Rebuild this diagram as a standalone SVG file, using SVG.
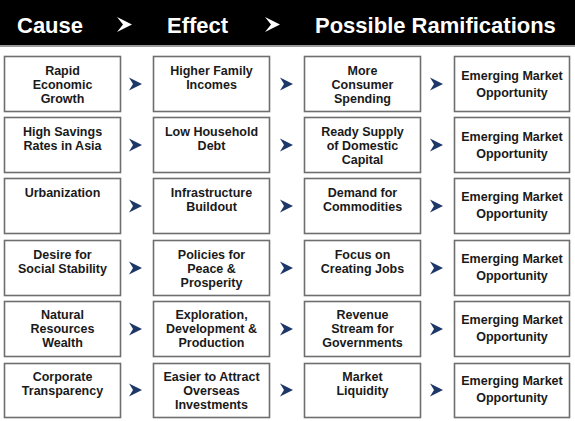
<svg xmlns="http://www.w3.org/2000/svg" width="575" height="421" viewBox="0 0 575 421">
<style>
.hdr{font-family:"Liberation Sans",Arial,sans-serif;font-weight:bold;font-size:22px;fill:#ffffff}
.box{fill:#ffffff;stroke:#6e6e6e;stroke-width:1.6}
.t{font-family:"Liberation Sans",Arial,sans-serif;font-weight:bold;font-size:12.5px;fill:#1a1a1a;text-anchor:middle}
.hc{fill:#ffffff}
.nc{fill:#1c3768}
</style>
<defs>
<path id="chev" d="M0,-6.5 L13,0 L0,6.5 L4,0 Z"/>
</defs>
<rect x="0" y="0" width="575" height="421" fill="#ffffff"/>
<g id="header">
<rect x="0" y="0" width="575" height="45" fill="#000000"/>
<rect x="0" y="45" width="575" height="2" fill="#9a9a9a"/>
<text class="hdr" x="17" y="33">Cause</text>
<text class="hdr" x="167" y="33">Effect</text>
<text class="hdr" x="315" y="33">Possible Ramifications</text>
<path class="hc" d="M117,17 L132,24.5 L117,32 L123,24.5 Z"/>
<path class="hc" d="M265,17 L280,24.5 L265,32 L271,24.5 Z"/>
</g>
<g id="connectors">
<use href="#chev" class="nc" x="129" y="84"/><use href="#chev" class="nc" x="280" y="84"/><use href="#chev" class="nc" x="430" y="84"/>
<use href="#chev" class="nc" x="129" y="145"/><use href="#chev" class="nc" x="280" y="145"/><use href="#chev" class="nc" x="430" y="145"/>
<use href="#chev" class="nc" x="129" y="206"/><use href="#chev" class="nc" x="280" y="206"/><use href="#chev" class="nc" x="430" y="206"/>
<use href="#chev" class="nc" x="129" y="268"/><use href="#chev" class="nc" x="280" y="268"/><use href="#chev" class="nc" x="430" y="268"/>
<use href="#chev" class="nc" x="129" y="329"/><use href="#chev" class="nc" x="280" y="329"/><use href="#chev" class="nc" x="430" y="329"/>
<use href="#chev" class="nc" x="129" y="390"/><use href="#chev" class="nc" x="280" y="390"/><use href="#chev" class="nc" x="430" y="390"/>
</g>
<!-- Row 1 -->
<g id="r1c1"><rect class="box" x="4.5" y="56.5" width="116" height="55"/><text class="t" x="62.5"><tspan x="62.5" y="75">Rapid</tspan><tspan x="62.5" y="89">Economic</tspan><tspan x="62.5" y="103">Growth</tspan></text></g>
<g id="r1c2"><rect class="box" x="153.5" y="56.5" width="116" height="55"/><text class="t"><tspan x="211.5" y="75">Higher Family</tspan><tspan x="211.5" y="89">Incomes</tspan></text></g>
<g id="r1c3"><rect class="box" x="304.5" y="56.5" width="116" height="55"/><text class="t"><tspan x="362.5" y="75">More</tspan><tspan x="362.5" y="89">Consumer</tspan><tspan x="362.5" y="103">Spending</tspan></text></g>
<g id="r1c4"><rect class="box" x="454.5" y="56.5" width="115" height="55"/><text class="t"><tspan x="512" y="80">Emerging Market</tspan><tspan x="512" y="96.5">Opportunity</tspan></text></g>
<!-- Row 2 -->
<g id="r2c1"><rect class="box" x="4.5" y="117.5" width="116" height="55"/><text class="t"><tspan x="62.5" y="136">High Savings</tspan><tspan x="62.5" y="150">Rates in Asia</tspan></text></g>
<g id="r2c2"><rect class="box" x="153.5" y="117.5" width="116" height="55"/><text class="t"><tspan x="211.5" y="136">Low Household</tspan><tspan x="211.5" y="150">Debt</tspan></text></g>
<g id="r2c3"><rect class="box" x="304.5" y="117.5" width="116" height="55"/><text class="t"><tspan x="362.5" y="136">Ready Supply</tspan><tspan x="362.5" y="150">of Domestic</tspan><tspan x="362.5" y="164">Capital</tspan></text></g>
<g id="r2c4"><rect class="box" x="454.5" y="117.5" width="115" height="55"/><text class="t"><tspan x="512" y="141">Emerging Market</tspan><tspan x="512" y="157.5">Opportunity</tspan></text></g>
<!-- Row 3 -->
<g id="r3c1"><rect class="box" x="4.5" y="178.5" width="116" height="55"/><text class="t"><tspan x="62.5" y="197">Urbanization</tspan></text></g>
<g id="r3c2"><rect class="box" x="153.5" y="178.5" width="116" height="55"/><text class="t"><tspan x="211.5" y="197">Infrastructure</tspan><tspan x="211.5" y="211">Buildout</tspan></text></g>
<g id="r3c3"><rect class="box" x="304.5" y="178.5" width="116" height="55"/><text class="t"><tspan x="362.5" y="197">Demand for</tspan><tspan x="362.5" y="211">Commodities</tspan></text></g>
<g id="r3c4"><rect class="box" x="454.5" y="178.5" width="115" height="55"/><text class="t"><tspan x="512" y="201">Emerging Market</tspan><tspan x="512" y="217.5">Opportunity</tspan></text></g>
<!-- Row 4 -->
<g id="r4c1"><rect class="box" x="4.5" y="240.5" width="116" height="55"/><text class="t"><tspan x="62.5" y="259">Desire for</tspan><tspan x="62.5" y="273">Social Stability</tspan></text></g>
<g id="r4c2"><rect class="box" x="153.5" y="240.5" width="116" height="55"/><text class="t"><tspan x="211.5" y="259">Policies for</tspan><tspan x="211.5" y="273">Peace &amp;</tspan><tspan x="211.5" y="287">Prosperity</tspan></text></g>
<g id="r4c3"><rect class="box" x="304.5" y="240.5" width="116" height="55"/><text class="t"><tspan x="362.5" y="259">Focus on</tspan><tspan x="362.5" y="273">Creating Jobs</tspan></text></g>
<g id="r4c4"><rect class="box" x="454.5" y="240.5" width="115" height="55"/><text class="t"><tspan x="512" y="263">Emerging Market</tspan><tspan x="512" y="279.5">Opportunity</tspan></text></g>
<!-- Row 5 -->
<g id="r5c1"><rect class="box" x="4.5" y="301.5" width="116" height="55"/><text class="t"><tspan x="62.5" y="319">Natural</tspan><tspan x="62.5" y="333">Resources</tspan><tspan x="62.5" y="347">Wealth</tspan></text></g>
<g id="r5c2"><rect class="box" x="153.5" y="301.5" width="116" height="55"/><text class="t"><tspan x="211.5" y="319">Exploration,</tspan><tspan x="211.5" y="333">Development &amp;</tspan><tspan x="211.5" y="347">Production</tspan></text></g>
<g id="r5c3"><rect class="box" x="304.5" y="301.5" width="116" height="55"/><text class="t"><tspan x="362.5" y="319">Revenue</tspan><tspan x="362.5" y="333">Stream for</tspan><tspan x="362.5" y="347">Governments</tspan></text></g>
<g id="r5c4"><rect class="box" x="454.5" y="301.5" width="115" height="55"/><text class="t"><tspan x="512" y="324">Emerging Market</tspan><tspan x="512" y="340.5">Opportunity</tspan></text></g>
<!-- Row 6 -->
<g id="r6c1"><rect class="box" x="4.5" y="363.5" width="116" height="54"/><text class="t"><tspan x="62.5" y="381">Corporate</tspan><tspan x="62.5" y="395">Transparency</tspan></text></g>
<g id="r6c2"><rect class="box" x="153.5" y="363.5" width="116" height="54"/><text class="t"><tspan x="211.5" y="381">Easier to Attract</tspan><tspan x="211.5" y="395">Overseas</tspan><tspan x="211.5" y="409">Investments</tspan></text></g>
<g id="r6c3"><rect class="box" x="304.5" y="363.5" width="116" height="54"/><text class="t"><tspan x="362.5" y="381">Market</tspan><tspan x="362.5" y="395">Liquidity</tspan></text></g>
<g id="r6c4"><rect class="box" x="454.5" y="363.5" width="115" height="54"/><text class="t"><tspan x="512" y="385">Emerging Market</tspan><tspan x="512" y="401.5">Opportunity</tspan></text></g>
</svg>
